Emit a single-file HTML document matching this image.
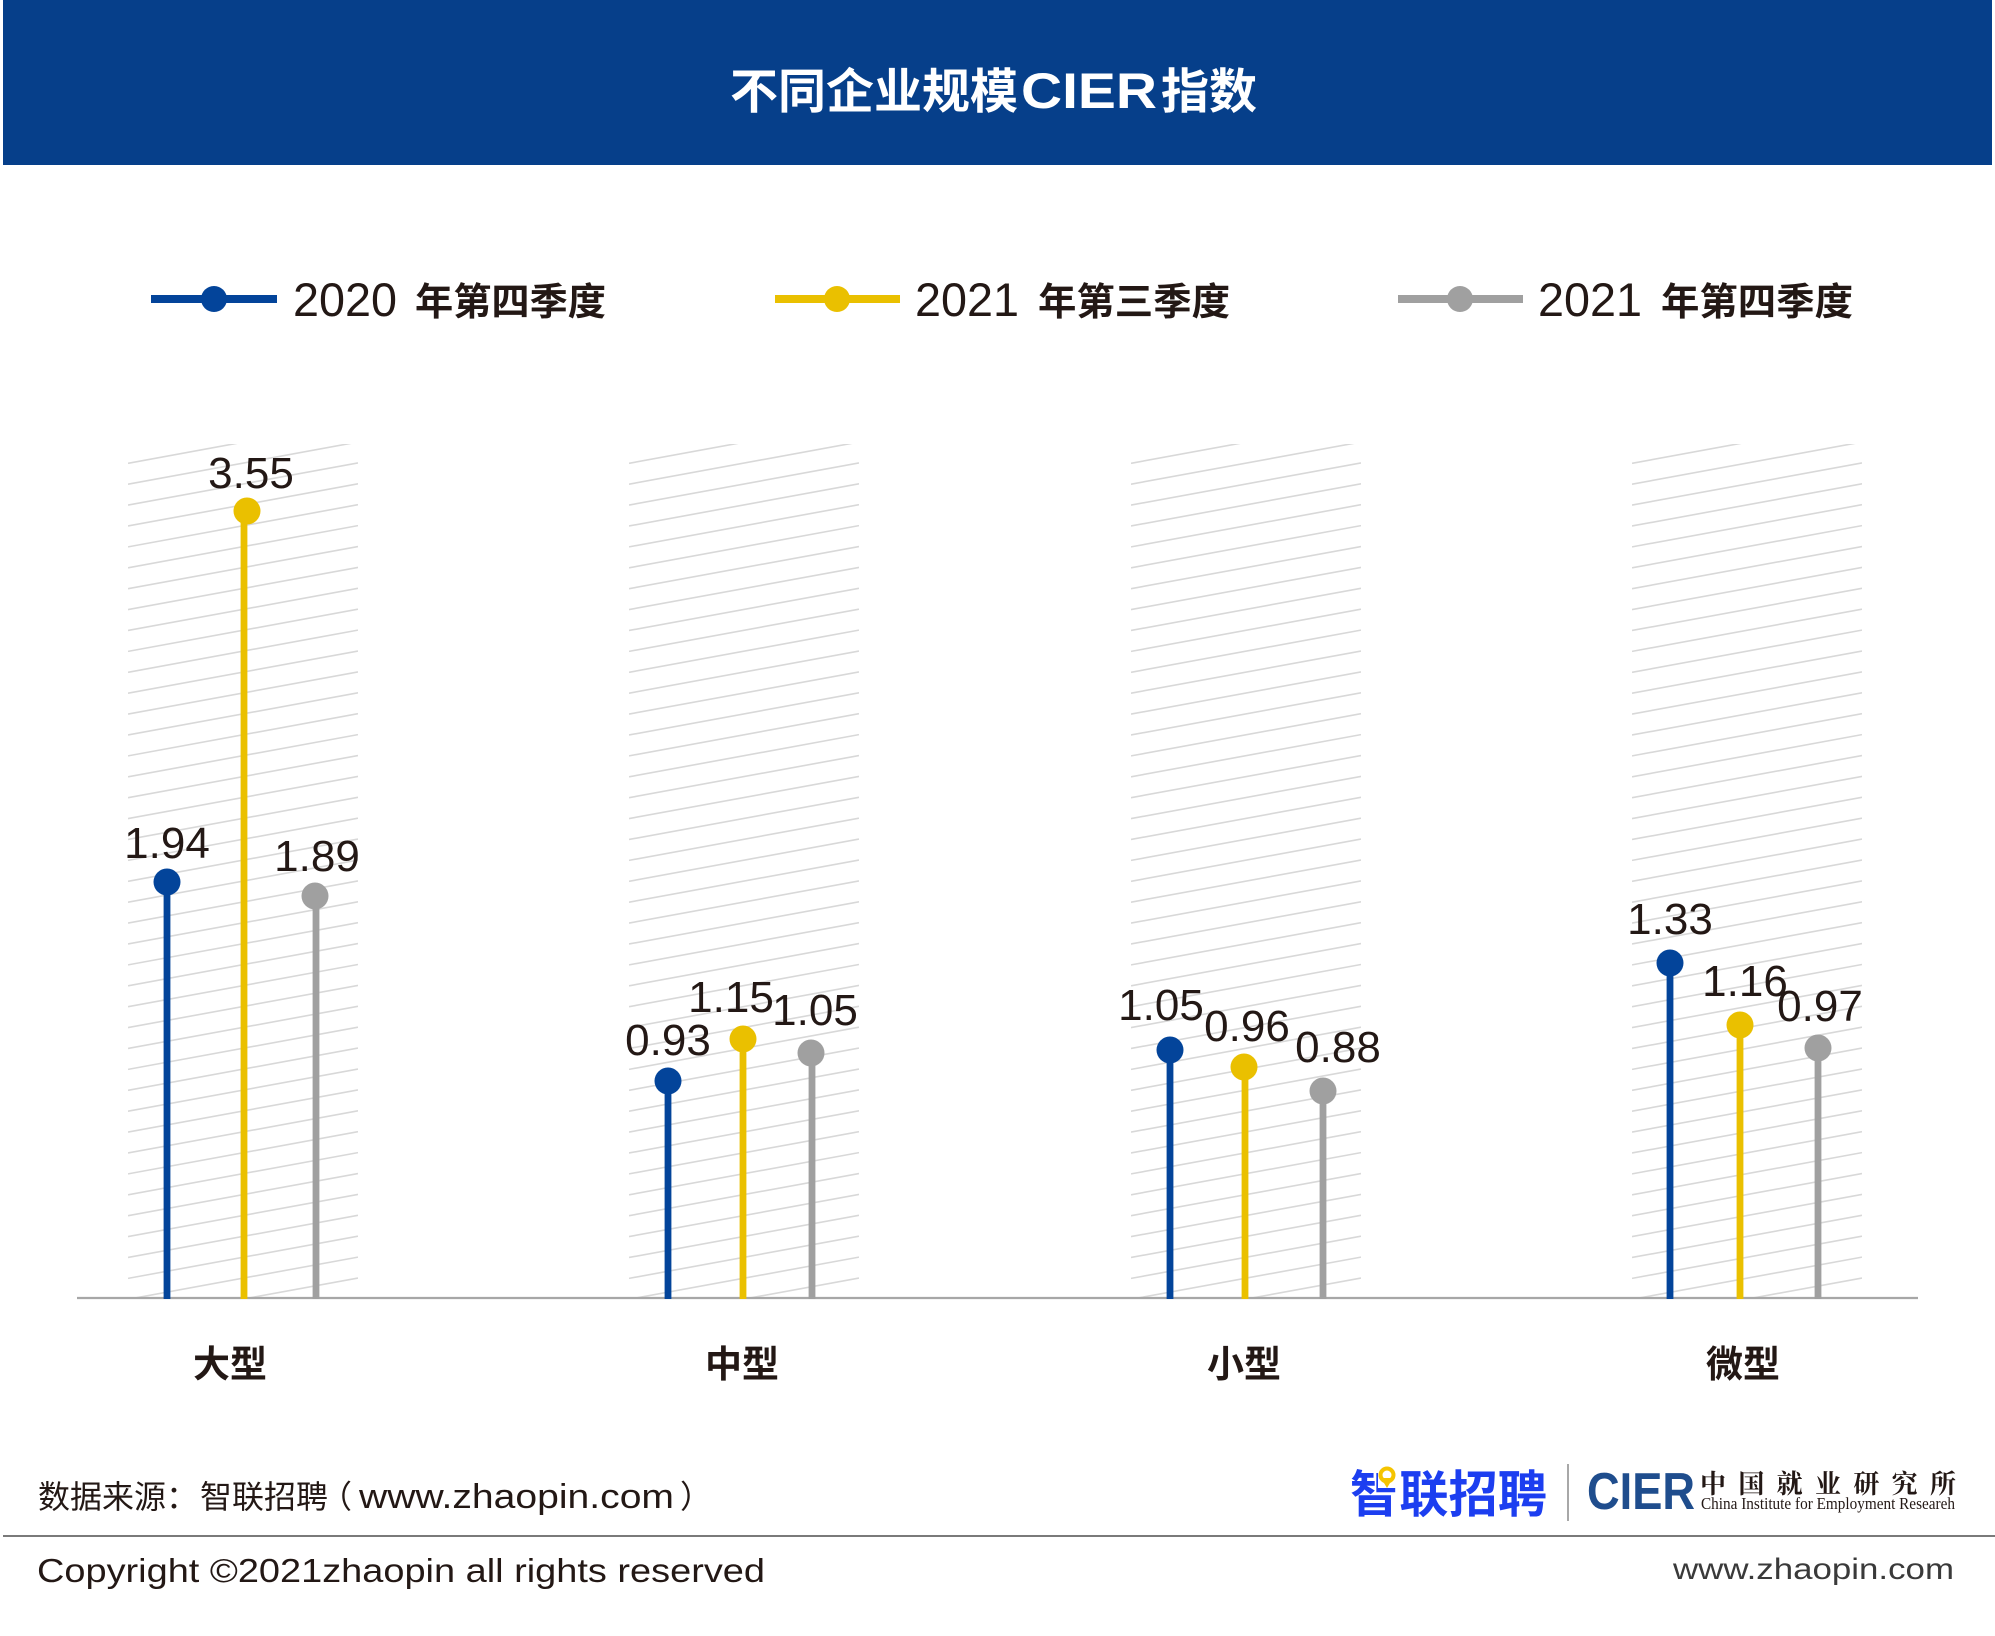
<!DOCTYPE html>
<html>
<head>
<meta charset="utf-8">
<style>
html,body{margin:0;padding:0;background:#ffffff;}
svg{display:block;}
</style>
</head>
<body>
<svg width="1995" height="1636" viewBox="0 0 1995 1636" xmlns="http://www.w3.org/2000/svg">
<defs>
<clipPath id="bc"><rect x="0" y="444" width="230" height="854"/></clipPath>
<g id="hatch" clip-path="url(#bc)">
<path fill="none" stroke="#d8d8d8" stroke-width="1.6" d="M0 442.4l230-42.2m-230 63.1l230-42.2m-230 63.1l230-42.2m-230 63.1l230-42.2m-230 63.1l230-42.2m-230 63.1l230-42.2m-230 63.1l230-42.2m-230 63.1l230-42.2m-230 63.1l230-42.2m-230 63.1l230-42.2m-230 63.1l230-42.2m-230 63.1l230-42.2m-230 63.1l230-42.2m-230 63.1l230-42.2m-230 63.1l230-42.2m-230 63.1l230-42.2m-230 63.1l230-42.2m-230 63.1l230-42.2m-230 63.1l230-42.2m-230 63.1l230-42.2m-230 63.1l230-42.2m-230 63.1l230-42.2m-230 63.1l230-42.2m-230 63.1l230-42.2m-230 63.1l230-42.2m-230 63.1l230-42.2m-230 63.1l230-42.2m-230 63.1l230-42.2m-230 63.1l230-42.2m-230 63.1l230-42.2m-230 63.1l230-42.2m-230 63.1l230-42.2m-230 63.1l230-42.2m-230 63.1l230-42.2m-230 63.1l230-42.2m-230 63.1l230-42.2m-230 63.1l230-42.2m-230 63.1l230-42.2m-230 63.1l230-42.2m-230 63.1l230-42.2m-230 63.1l230-42.2m-230 63.1l230-42.2m-230 63.1l230-42.2"/>
</g>
</defs>

<!-- Header -->
<rect x="3" y="0" width="1989" height="165" fill="#063F8A"/>
<text x="730" y="108" font-family="Liberation Sans, Noto Sans CJK SC, sans-serif" font-size="48" font-weight="bold" fill="#ffffff" textLength="288" lengthAdjust="spacingAndGlyphs">不同企业规模</text>
<text x="1021" y="108" font-family="Liberation Sans, sans-serif" font-size="50" font-weight="bold" fill="#ffffff" textLength="136" lengthAdjust="spacingAndGlyphs">CIER</text>
<text x="1161" y="108" font-family="Liberation Sans, Noto Sans CJK SC, sans-serif" font-size="48" font-weight="bold" fill="#ffffff" textLength="96" lengthAdjust="spacingAndGlyphs">指数</text>

<!-- Legend -->
<g>
<line x1="151" y1="299" x2="277" y2="299" stroke="#03449A" stroke-width="8"/>
<circle cx="214" cy="299" r="13" fill="#03449A"/>
<text x="293" y="316" font-family="Liberation Sans, sans-serif" font-size="47" fill="#231815" textLength="104" lengthAdjust="spacingAndGlyphs">2020</text>
<text x="415" y="315" font-family="Liberation Sans, Noto Sans CJK SC, sans-serif" font-size="38" font-weight="bold" fill="#231815" textLength="191" lengthAdjust="spacingAndGlyphs">年第四季度</text>

<line x1="775" y1="299" x2="900" y2="299" stroke="#EAC000" stroke-width="8"/>
<circle cx="837" cy="299" r="13" fill="#EAC000"/>
<text x="915" y="316" font-family="Liberation Sans, sans-serif" font-size="47" fill="#231815" textLength="104" lengthAdjust="spacingAndGlyphs">2021</text>
<text x="1038" y="315" font-family="Liberation Sans, Noto Sans CJK SC, sans-serif" font-size="38" font-weight="bold" fill="#231815" textLength="192" lengthAdjust="spacingAndGlyphs">年第三季度</text>

<line x1="1398" y1="299" x2="1523" y2="299" stroke="#A0A0A0" stroke-width="8"/>
<circle cx="1460" cy="299" r="13" fill="#A0A0A0"/>
<text x="1538" y="316" font-family="Liberation Sans, sans-serif" font-size="47" fill="#231815" textLength="104" lengthAdjust="spacingAndGlyphs">2021</text>
<text x="1661" y="315" font-family="Liberation Sans, Noto Sans CJK SC, sans-serif" font-size="38" font-weight="bold" fill="#231815" textLength="192" lengthAdjust="spacingAndGlyphs">年第四季度</text>
</g>

<!-- Hatch bands -->
<use href="#hatch" x="128" y="0"/>
<use href="#hatch" x="629" y="0"/>
<use href="#hatch" x="1131" y="0"/>
<use href="#hatch" x="1632" y="0"/>

<!-- Axis -->
<line x1="77" y1="1298" x2="1918" y2="1298" stroke="#a7a7a7" stroke-width="2.2"/>

<!-- Stems -->
<g stroke-width="6.8">
<line x1="167" y1="882" x2="167" y2="1299" stroke="#03449A"/>
<line x1="244" y1="511" x2="244" y2="1299" stroke="#EAC000"/>
<line x1="316" y1="896" x2="316" y2="1299" stroke="#A0A0A0"/>

<line x1="668" y1="1081" x2="668" y2="1299" stroke="#03449A"/>
<line x1="743" y1="1039" x2="743" y2="1299" stroke="#EAC000"/>
<line x1="812" y1="1053" x2="812" y2="1299" stroke="#A0A0A0"/>

<line x1="1170" y1="1050" x2="1170" y2="1299" stroke="#03449A"/>
<line x1="1245" y1="1067" x2="1245" y2="1299" stroke="#EAC000"/>
<line x1="1323" y1="1091" x2="1323" y2="1299" stroke="#A0A0A0"/>

<line x1="1670" y1="963" x2="1670" y2="1299" stroke="#03449A"/>
<line x1="1740" y1="1025" x2="1740" y2="1299" stroke="#EAC000"/>
<line x1="1818" y1="1048" x2="1818" y2="1299" stroke="#A0A0A0"/>
</g>

<!-- Dots -->
<circle cx="167" cy="882" r="13.5" fill="#03449A"/>
<circle cx="247" cy="511" r="13.5" fill="#EAC000"/>
<circle cx="315" cy="896" r="13.5" fill="#A0A0A0"/>

<circle cx="668" cy="1081" r="13.5" fill="#03449A"/>
<circle cx="743" cy="1039" r="13.5" fill="#EAC000"/>
<circle cx="811" cy="1053" r="13.5" fill="#A0A0A0"/>

<circle cx="1170" cy="1050" r="13.5" fill="#03449A"/>
<circle cx="1244" cy="1067" r="13.5" fill="#EAC000"/>
<circle cx="1323" cy="1091" r="13.5" fill="#A0A0A0"/>

<circle cx="1670" cy="963" r="13.5" fill="#03449A"/>
<circle cx="1740" cy="1025" r="13.5" fill="#EAC000"/>
<circle cx="1818" cy="1048" r="13.5" fill="#A0A0A0"/>

<!-- Value labels -->
<g font-family="Liberation Sans, sans-serif" font-size="44" fill="#231815" text-anchor="middle">
<text x="167" y="858">1.94</text>
<text x="251" y="488">3.55</text>
<text x="317" y="871">1.89</text>

<text x="668" y="1055">0.93</text>
<text x="731" y="1012">1.15</text>
<text x="815" y="1025">1.05</text>

<text x="1161" y="1020">1.05</text>
<text x="1247" y="1041">0.96</text>
<text x="1338" y="1062">0.88</text>

<text x="1670" y="934">1.33</text>
<text x="1745" y="996">1.16</text>
<text x="1820" y="1021">0.97</text>
</g>

<!-- Category labels -->
<g font-family="Liberation Sans, Noto Sans CJK SC, sans-serif" font-size="37" font-weight="bold" fill="#231815" text-anchor="middle">
<text x="230" y="1377">大型</text>
<text x="742" y="1377">中型</text>
<text x="1244" y="1377">小型</text>
<text x="1743" y="1377">微型</text>
</g>

<!-- Footer source -->
<g font-family="Liberation Sans, Noto Sans CJK SC, sans-serif" fill="#231815">
<text x="38" y="1508" font-size="32" textLength="160" lengthAdjust="spacingAndGlyphs">数据来源：</text>
<text x="200" y="1508" font-size="32" textLength="128" lengthAdjust="spacingAndGlyphs">智联招聘</text>
<text x="320" y="1508" font-size="32">（</text>
<text x="359" y="1508" font-size="34" textLength="315" lengthAdjust="spacingAndGlyphs">www.zhaopin.com</text>
<text x="680" y="1508" font-size="32">）</text>
</g>

<!-- Logos -->
<text x="1350" y="1512" font-family="Liberation Sans, Noto Sans CJK SC, sans-serif" font-size="50" font-weight="bold" fill="#1C3EF0" textLength="197" lengthAdjust="spacingAndGlyphs">智联招聘</text>
<rect x="1378" y="1466" width="18" height="22" fill="#ffffff"/>
<circle cx="1387" cy="1475" r="6.5" fill="none" stroke="#F5C400" stroke-width="4"/>
<path d="M1381 1478 L1387 1488 L1393 1478 Z" fill="#F5C400"/>
<line x1="1568" y1="1464" x2="1568" y2="1521" stroke="#8a8a8a" stroke-width="1.5"/>
<text x="1587" y="1509" font-family="Liberation Sans, sans-serif" font-size="52" font-weight="bold" fill="#1F4D8D" textLength="108" lengthAdjust="spacingAndGlyphs">CIER</text>
<text x="1700" y="1493" font-family="Liberation Serif, Noto Serif CJK SC, serif" font-size="26" font-weight="bold" fill="#231815" textLength="256" lengthAdjust="spacing">中国就业研究所</text>
<text x="1701" y="1509" font-family="Liberation Serif, serif" font-size="17" fill="#231815" textLength="254" lengthAdjust="spacingAndGlyphs">China Institute for Employment Researeh</text>

<!-- Separator -->
<line x1="3" y1="1536" x2="1995" y2="1536" stroke="#7a7a7a" stroke-width="2"/>

<!-- Copyright -->
<text x="37" y="1582" font-family="Liberation Sans, sans-serif" font-size="33" fill="#231815" textLength="728" lengthAdjust="spacingAndGlyphs">Copyright ©2021zhaopin all rights reserved</text>
<text x="1673" y="1579" font-family="Liberation Sans, sans-serif" font-size="30" fill="#3a3a3a" textLength="281" lengthAdjust="spacingAndGlyphs">www.zhaopin.com</text>
</svg>
</body>
</html>
